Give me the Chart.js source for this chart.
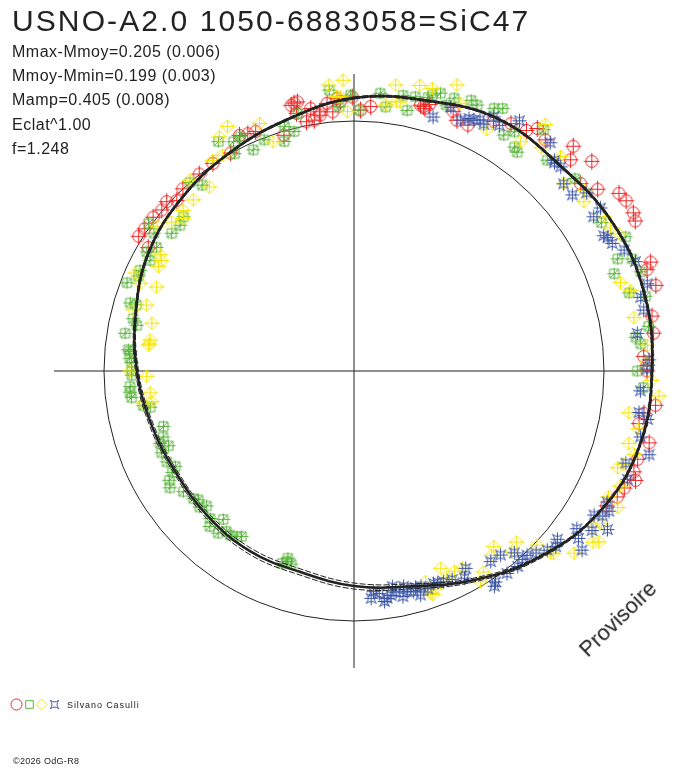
<!DOCTYPE html>
<html>
<head>
<meta charset="utf-8">
<script src="https://cdn.jsdelivr.net/npm/chart.js@4.4.1/dist/chart.umd.min.js"></script>
<style>
  html, body { margin: 0; padding: 0; background: #fff; }
  #wrap { position: relative; width: 688px; height: 768px; overflow: hidden; font-family: 'Liberation Sans', Arial, sans-serif; color: #222; }
  #wrap canvas { position: absolute; left: 0; top: 0; }
  .t { position: absolute; white-space: nowrap; line-height: 1; }
  .title { font-size: 30px; letter-spacing: 2.1px; left: 12px; top: 6px; }
  .stat { font-size: 16px; letter-spacing: 0.5px; left: 12px; }
  .small { font-size: 9px; letter-spacing: 0.9px; }
  .prov { font-size: 22px; left: 618px; top: 619px; transform: translate(-50%, -50%) rotate(-44deg); }
</style>
</head>
<body>
<div id="wrap">
  <canvas id="c" width="688" height="768"></canvas>
  <div class="t title">USNO-A2.0 1050-6883058=SiC47</div>
  <div class="t stat" style="top:44px">Mmax-Mmoy=0.205 (0.006)</div>
  <div class="t stat" style="top:68px">Mmoy-Mmin=0.199 (0.003)</div>
  <div class="t stat" style="top:92px">Mamp=0.405 (0.008)</div>
  <div class="t stat" style="top:117px">Eclat^1.00</div>
  <div class="t stat" style="top:141px">f=1.248</div>
  <div class="t small" style="left:67px; top:701px">Silvano Casulli</div>
  <div class="t small" style="left:13px; top:757px; letter-spacing:0.3px">©2026 OdG-R8</div>
  <div class="t prov">Provisoire</div>
</div>
<script>
// phase (0..1, clockwise from top) and magnitude offset from the mean (radius = 1 + dmag)
const redPhase = [.839,.854,.836,.867,.872,.880,.894,.905,.918,.928,.933,.938,.954,.963,.967,.974,.979,.984,.992,.999,.970,.979,.004,.010,.041,.044,.058,.062,.069,.081,.090,.099,.103,.110,.123,.135,.127,.148,.156,.161,.168,.172,.140,.194,.197,.206,.221,.230,.242,.247,.250,.268,.273,.279,.288,.298,.305,.309,.315,.321,.328,.990,.845,.861,.965,.965,.975,.987,.039,.042];
const redMag = [.016,.012,-.040,.010,-.016,.000,.002,.004,.002,.048,.040,.036,-.016,.092,.100,.064,.046,.076,.080,.096,.015,.032,.044,.060,.094,.108,.112,.084,.084,.144,.172,.184,.216,.200,.256,.268,.210,.216,.276,.284,.284,.275,.176,.264,.240,.255,.212,.208,.160,.172,.172,.214,.172,.159,.215,.188,.190,.208,.178,.167,.146,.092,.012,.003,.098,.056,.016,.040,.096,.088];

const greenPhase = [.809,.776,.764,.756,.787,.797,.820,.833,.849,.846,.853,.867,.861,.886,.891,.915,.923,.928,.920,.932,.941,.956,.961,.953,.966,.986,.991,.998,.003,.839,.829,.816,.797,.783,.750,.739,.731,.735,.722,.705,.697,.693,.689,.686,.678,.672,.669,.665,.660,.652,.643,.640,.632,.635,.623,.615,.619,.611,.607,.598,.595,.603,.557,.554,.550,.554,.015,.019,.028,.032,.035,.042,.048,.044,.053,.065,.069,.078,.082,.090,.094,.099,.102,.106,.118,.136,.164,.177,.186,.189,.197,.193,.206,.210,.231,.235,.226,.250,.259,.765,.759,.747,.724,.056];
const greenMag = [-.026,-.072,-.101,-.110,-.092,-.090,-.054,-.044,.012,-.028,-.086,-.080,-.092,.000,-.040,.066,.036,.042,-.008,-.028,-.008,.016,-.012,-.040,.054,.128,.059,.104,.044,-.068,-.072,-.058,-.064,-.112,-.111,-.102,-.104,-.100,-.172,-.206,-.192,-.172,-.200,-.164,-.168,-.190,-.168,-.142,-.128,-.164,-.180,-.192,-.201,-.177,-.176,-.209,-.152,-.154,-.180,-.188,-.200,-.178,-.178,-.192,-.188,-.206,.116,.064,.120,.064,.124,.134,.164,.148,.126,.180,.172,.191,.207,.118,.152,.102,.092,.228,.144,.172,.154,.212,.146,.199,.214,.111,.144,.204,.135,.152,.192,.133,.159,-.093,-.102,-.111,-.146,.163];

const yellowPhase = [.994,.986,.996,.990,.942,.946,.924,.917,.913,.906,.894,.887,.880,.870,.866,.859,.851,.836,.833,.828,.814,.799,.787,.774,.770,.812,.817,.793,.023,.036,.043,.055,.025,.060,.080,.100,.105,.111,.122,.134,.149,.144,.162,.169,.174,.199,.205,.220,.228,.233,.236,.263,.274,.291,.306,.303,.323,.326,.342,.347,.360,.368,.379,.398,.386,.414,.426,.420,.433,.443,.447,.369,.349,.338,.771,.746,.750,.733,.726,.726,.434,.409,.393,.371,.448,.446,.992,.019,.027,.245,.255,.282,.296,.315];
const yellowMag = [.164,.148,.038,.100,.060,-.028,.102,.080,.010,.014,-.064,.007,-.061,-.062,-.084,-.058,-.022,-.096,-.112,-.113,-.142,-.130,-.169,-.175,-.171,-.076,-.041,-.084,.156,.172,.173,.216,.091,.152,.102,.134,.248,.166,.191,.127,.142,.171,.175,.175,.194,.123,.153,.140,.258,.240,.178,.224,.112,.137,.123,.141,.136,.188,.144,.194,.143,.082,-.056,-.080,-.040,-.017,-.104,-.100,-.092,-.072,-.060,.071,.176,.163,-.176,-.170,-.104,-.180,-.182,-.148,-.138,-.044,-.102,.011,-.110,-.052,.098,.072,.092,.170,.190,.160,.170,.160];

const bluePhase = [.048,.056,.064,.068,.074,.080,.085,.093,.113,.121,.126,.142,.146,.159,.157,.173,.177,.183,.191,.204,.210,.217,.224,.229,.244,.122,.134,.171,.249,.261,.273,.276,.286,.294,.302,.310,.326,.330,.336,.339,.344,.348,.356,.360,.369,.380,.389,.397,.393,.385,.401,.406,.408,.418,.422,.436,.443,.452,.458,.464,.472,.466,.477,.479,.486,.488,.454,.334,.071,.077,.470,.474,.482,.462,.456,.448,.440,.430,.352,.364,.375,.384];
const blueMag = [.064,.124,.091,.110,.124,.160,.142,.200,.204,.163,.162,.122,.172,.140,.182,.147,.152,.184,.208,.224,.184,.184,.250,.143,.181,.156,.124,.136,.172,.148,.152,.190,.176,.227,.148,.176,.140,.164,.120,.196,.146,.092,.160,.056,.054,.011,.020,.015,-.059,-.030,-.062,.016,.028,-.093,-.061,-.084,-.092,-.097,-.085,-.116,-.124,-.077,-.081,-.070,-.114,-.088,-.065,.152,.112,.116,-.100,-.090,-.104,-.092,-.100,-.080,-.090,-.078,.120,.070,.030,.010];

// fitted light curve and its two companion curves, sampled every 1/24 of phase
const fitPhase = [0,.042,.083,.125,.167,.208,.25,.292,.333,.375,.417,.458,.5,.542,.583,.625,.667,.708,.75,.792,.833,.875,.917,.958];
const fitMag = [.092,.120,.162,.164,.192,.202,.192,.180,.132,.052,-.036,-.108,-.140,-.168,-.168,-.176,-.180,-.162,-.132,-.096,-.052,-.024,.004,.040];
const fitHi = [.096,.124,.166,.168,.196,.206,.196,.184,.136,.058,-.028,-.098,-.128,-.156,-.156,-.166,-.172,-.154,-.126,-.092,-.048,-.020,.008,.044];
const fitLo = [.088,.116,.158,.160,.188,.198,.188,.176,.128,.046,-.044,-.118,-.152,-.180,-.180,-.186,-.188,-.170,-.138,-.100,-.056,-.028,.000,.036];

const axisExtent = 1.2;   // reference circle has radius 1 (mean magnitude)

const RED = '#ee2626', GREEN = '#5ab43c', YELLOW = '#f5e600', BLUE = '#3a55a8', INK = '#222';

function toXY(phase, dm) {
  const a = phase * 2 * Math.PI, r = 1 + dm;
  return { x: r * Math.sin(a), y: r * Math.cos(a) };
}
const pts = (ph, dm) => ph.map((p, i) => toXY(p, dm[i]));
// wrap one extra sample on each side so the spline closes smoothly; those two end segments are hidden
const wrapped = (ph, dm) => { const a = pts(ph, dm); return [a[a.length - 1], ...a, a[0], a[1]]; };

function shapePath(g, shape, s) {
  g.beginPath();
  if (shape === 'circle') g.arc(0, 0, 6 * s, 0, 2 * Math.PI);
  else if (shape === 'square') g.rect(-4.5 * s, -4.5 * s, 9 * s, 9 * s);
  else if (shape === 'diamond') { g.moveTo(0, -6.5 * s); g.lineTo(6.5 * s, 0); g.lineTo(0, 6.5 * s); g.lineTo(-6.5 * s, 0); g.closePath(); }
  else {
    const k = 5 * s, m = 1 * s;
    g.moveTo(-k, -k); g.quadraticCurveTo(0, -m, k, -k); g.quadraticCurveTo(m, 0, k, k);
    g.quadraticCurveTo(0, m, -k, k); g.quadraticCurveTo(-m, 0, -k, -k);
  }
}

// marker image with its little error ticks
const tick = { circle: [8.5, 8], square: [6, 7], diamond: [6.5, 8], star: [7, 7] };
function marker(color, shape) {
  const c = document.createElement('canvas'); c.width = c.height = 21;
  const g = c.getContext('2d');
  g.strokeStyle = color; g.lineWidth = 1; g.translate(10.5, 10.5);
  const [v, h] = tick[shape];
  g.beginPath(); g.moveTo(0, -v); g.lineTo(0, v); g.moveTo(-h, 0); g.lineTo(h, 0);
  if (shape === 'square') { g.moveTo(-4, 4); g.lineTo(4, -4); }
  g.stroke();
  shapePath(g, shape, 1); g.stroke();
  return c;
}

const polarFrame = {
  id: 'polarFrame',
  beforeDatasetsDraw(chart) {
    const { ctx, scales: { x, y } } = chart;
    const cx = x.getPixelForValue(0), cy = y.getPixelForValue(0);
    ctx.save();
    ctx.strokeStyle = INK; ctx.lineWidth = 1;
    ctx.beginPath();
    ctx.moveTo(x.getPixelForValue(-axisExtent), cy); ctx.lineTo(x.getPixelForValue(axisExtent), cy);
    ctx.moveTo(cx, y.getPixelForValue(axisExtent * 0.99)); ctx.lineTo(cx, y.getPixelForValue(-axisExtent * 0.99));
    ctx.stroke();
    ctx.beginPath();
    ctx.arc(cx, cy, x.getPixelForValue(1) - cx, 0, 2 * Math.PI);
    ctx.stroke();
    ctx.restore();
  },
  afterDraw(chart) {
    const ctx = chart.ctx;
    const keys = [[RED, 'circle', 16.5, 0.92], [GREEN, 'square', 29.5, 0.85], [YELLOW, 'diamond', 41.5, 0.85], [BLUE, 'star', 54.5, 0.85]];
    ctx.save();
    ctx.lineWidth = 1;
    keys.forEach(([col, shape, kx, s]) => {
      ctx.save(); ctx.translate(kx, 704.5); ctx.strokeStyle = col;
      shapePath(ctx, shape, s); ctx.stroke(); ctx.restore();
    });
    ctx.restore();
  },
};

function series(ph, dm, color, shape, order) {
  return { data: pts(ph, dm), pointStyle: marker(color, shape), pointRadius: 6, borderColor: color, backgroundColor: color, order, clip: false };
}
function curve(dm, width, dash) {
  const data = wrapped(fitPhase, dm), last = data.length - 1;
  return {
    data, showLine: true, pointRadius: 0, borderColor: INK, borderWidth: width, borderDash: dash, tension: 0.4, order: 0, clip: false,
    segment: { borderColor: (s) => (s.p0DataIndex === 0 || s.p1DataIndex === last ? 'rgba(0,0,0,0)' : INK) },
  };
}

new Chart(document.getElementById('c'), {
  type: 'scatter',
  data: {
    datasets: [
      series(redPhase, redMag, RED, 'circle', 5),
      series(greenPhase, greenMag, GREEN, 'square', 4),
      series(yellowPhase, yellowMag, YELLOW, 'diamond', 3),
      series(bluePhase, blueMag, BLUE, 'star', 2),
      curve(fitHi, 1, [6, 2]),
      curve(fitLo, 1, [6, 2]),
      curve(fitMag, 2.5, []),
    ],
  },
  options: {
    responsive: false,
    animation: false,
    layout: { padding: { left: 54, right: 34, top: 71, bottom: 97 } },
    plugins: { legend: { display: false }, tooltip: { enabled: false }, title: { display: false } },
    scales: {
      x: { type: 'linear', min: -axisExtent, max: axisExtent, display: false },
      y: { type: 'linear', min: -axisExtent, max: axisExtent, display: false },
    },
  },
  plugins: [polarFrame],
});
</script>
</body>
</html>
